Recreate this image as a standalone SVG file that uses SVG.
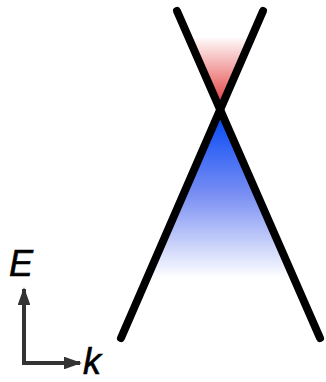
<svg xmlns="http://www.w3.org/2000/svg" width="326" height="382" viewBox="0 0 326 382">
<defs>
<linearGradient id="red" gradientUnits="userSpaceOnUse" x1="0" y1="36" x2="0" y2="106">
<stop offset="0" stop-color="#ffffff"/>
<stop offset="1" stop-color="#e43a3a"/>
</linearGradient>
<linearGradient id="blue" gradientUnits="userSpaceOnUse" x1="0" y1="112" x2="0" y2="278">
<stop offset="0" stop-color="#0046f5"/>
<stop offset="0.5" stop-color="#7a8ff3"/>
<stop offset="1" stop-color="#ffffff"/>
</linearGradient>
<marker id="ah" viewBox="0 0 10 10" refX="9" refY="5" markerWidth="4.5" markerHeight="3.2" orient="auto" markerUnits="strokeWidth" preserveAspectRatio="none">
<path d="M0,0 L10,5 L0,10 Z" fill="#333"/>
</marker>
<style>
.band{stroke:#000;stroke-width:8;stroke-linecap:round;fill:none}
.ax{stroke:#333;stroke-width:4;fill:none}
.lbl{font-family:"Liberation Sans",Arial,sans-serif;font-style:italic;font-size:36px;fill:#000;stroke:#000;stroke-width:0.6}
</style>
</defs>
<g id="fills">
<polygon points="220,110 188.5,38 251.5,38" fill="url(#red)"/>
<polygon points="220,110 146.6,278 293.4,278" fill="url(#blue)"/>
</g>
<g id="bands">
<line class="band" x1="177" y1="11" x2="320" y2="338"/>
<line class="band" x1="263" y1="11" x2="121" y2="338"/>
</g>
<g id="axes">
<path class="ax" d="M24,363 L24,289" marker-end="url(#ah)"/>
<path class="ax" d="M22,363 L80,363" marker-end="url(#ah)"/>
<text class="lbl" x="9" y="276">E</text>
<text class="lbl" x="83" y="374">k</text>
</g>
</svg>
